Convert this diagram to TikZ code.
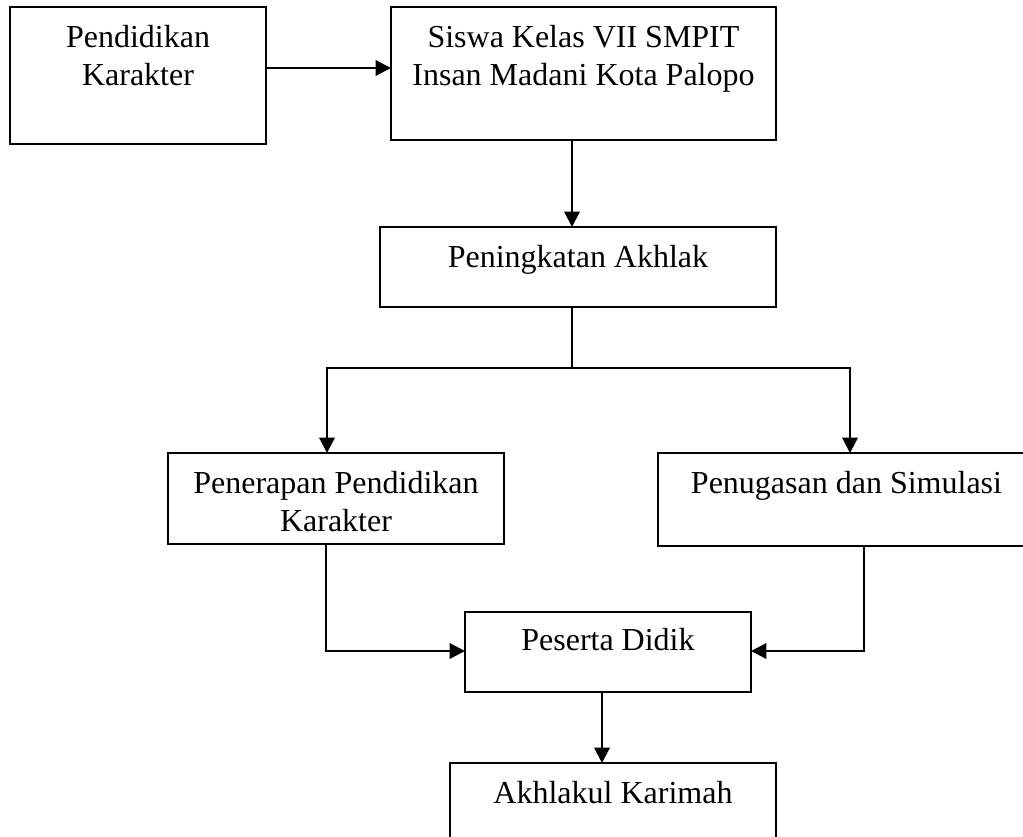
\documentclass[tikz,border=0pt]{standalone}
\usepackage{fontspec}
\setmainfont{Liberation Serif}
\usetikzlibrary{arrows.meta}
\newcommand{\boxtxt}[4]{\parbox[c][#2][t]{#1}{\centering\fontsize{24}{28.5}\selectfont\rule{0pt}{#3}#4}}
\tikzset{
  flowbox/.style={draw, line width=1.5pt, inner sep=0pt, outer sep=0pt, rectangle},
  conn/.style={line width=1.6pt},
  arr/.style={conn, -{Triangle[length=11.5pt,width=11.5pt]}}
}
\begin{document}
\begin{tikzpicture}[x=0.75pt,y=-0.75pt]
\useasboundingbox (0,0) rectangle (1023,836);
\node[flowbox] (b1) at (138,75.5) {\boxtxt{192pt}{102.75pt}{30pt}{Pendidikan\\Karakter}};
\node[flowbox] (b2) at (583.5,73.5) {\boxtxt{288.75pt}{99.75pt}{30pt}{Siswa Kelas VII SMPIT\\Insan Madani Kota Palopo}};
\node[flowbox] (b3) at (578,267) {\boxtxt{297pt}{60pt}{30pt}{Peningkatan Akhlak}};
\node[flowbox] (b4) at (336,498.5) {\boxtxt{252pt}{68.25pt}{30pt}{Penerapan Pendidikan\\Karakter}};
\node[flowbox] (b5) at (846.5,499.5) {\boxtxt{282.75pt}{69.75pt}{30pt}{Penugasan dan Simulasi}};
\node[flowbox] (b6) at (608,652) {\boxtxt{214.5pt}{60pt}{28.5pt}{Peserta Didik}};
\node[flowbox] (b7) at (613,804) {\boxtxt{244.5pt}{61.5pt}{30pt}{Akhlakul Karimah}};
\coordinate (split) at (572,368);
\draw[arr] (b1.east |- 0,68) -- (b2.west |- 0,68);
\draw[arr] (b2.south -| 572,0) -- (b3.north -| 572,0);
\draw[conn] (b3.south -| split) -- (split);
\draw[arr] (split) -| (b4.north -| 327,0);
\draw[arr] (split) -| (b5.north -| 850,0);
\draw[arr] (b4.south -| 326,0) |- (b6.west |- 0,651);
\draw[arr] (b5.south -| 864,0) |- (b6.east |- 0,651);
\draw[arr] (b6.south -| 602,0) -- (b7.north -| 602,0);
\end{tikzpicture}
\end{document}
